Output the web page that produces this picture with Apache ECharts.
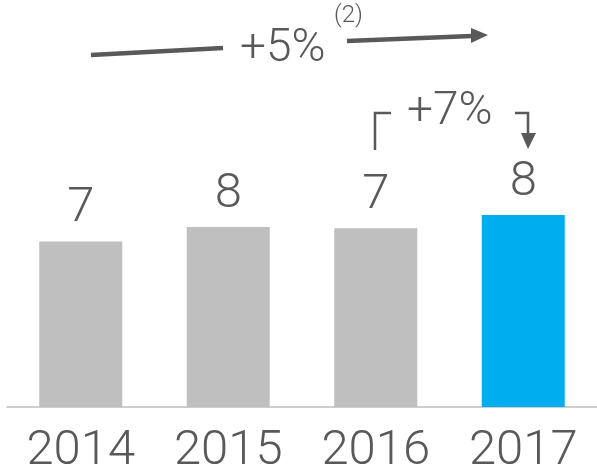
<!DOCTYPE html>
<html>
<head>
<meta charset="utf-8">
<script src="https://cdn.jsdelivr.net/npm/echarts@6/dist/echarts.min.js"></script>
<style>
  html, body { margin: 0; padding: 0; background: #fff; }
  #chart { width: 597px; height: 476px; }
</style>
</head>
<body>
<div id="chart"></div>
<script>
// data
const years = ['2014', '2015', '2016', '2017'];
const values = [6.9, 7.5, 7.45, 8.0];
const barColors = ['#BFBFBF', '#BFBFBF', '#BFBFBF', '#00AEEF'];
const textColor = '#595959';

const chart = echarts.init(document.getElementById('chart'));

const option = {
  animation: false,
  grid: { left: 7, right: -3, top: 167, bottom: 69 },
  xAxis: {
    type: 'category',
    data: years,
    axisTick: { show: false },
    axisLine: { lineStyle: { color: '#BFBFBF', width: 1.5 } },
    axisLabel: {
      color: textColor, fontSize: 49, fontFamily: 'Roboto', fontWeight: 300,
      lineHeight: 49, margin: 20
    }
  },
  yAxis: { type: 'value', min: 0, max: 10, show: false, splitLine: { show: false } },
  series: [{
    type: 'bar',
    barWidth: 83,
    data: values.map((v, i) => ({ value: v, itemStyle: { color: barColors[i] } })),
    label: {
      show: true,
      position: 'top',
      distance: 8,
      color: textColor, fontSize: 49, fontFamily: 'Roboto', fontWeight: 300, lineHeight: 49,
      formatter: p => Math.round(p.value)
    }
  }],
  graphic: [
    // long-term growth arrow
    { type: 'line', shape: { x1: 91, y1: 55, x2: 223, y2: 48 },
      style: { stroke: '#595959', lineWidth: 4.5 } },
    { type: 'text', left: 240, top: 26,
      style: { text: '+5%', fill: textColor, font: '300 46px Roboto' } },
    { type: 'text', left: 334, top: 4,
      style: { text: '(2)', fill: textColor, font: '300 24px Roboto' } },
    { type: 'line', shape: { x1: 347, y1: 41, x2: 472, y2: 36 },
      style: { stroke: '#595959', lineWidth: 4.5 } },
    { type: 'polygon', shape: { points: [[471, 28], [488, 35], [471, 43]] },
      style: { fill: '#595959' } },
    // year-on-year bracket
    { type: 'polyline', shape: { points: [[375, 150], [375, 113], [391, 113]] },
      style: { stroke: '#595959', lineWidth: 2.5, fill: null } },
    { type: 'text', left: 407, top: 89,
      style: { text: '+7%', fill: textColor, font: '300 46px Roboto' } },
    { type: 'polyline', shape: { points: [[515, 113], [528, 113], [528, 134]] },
      style: { stroke: '#595959', lineWidth: 2.5, fill: null } },
    { type: 'polygon', shape: { points: [[521, 133], [536, 133], [528, 149]] },
      style: { fill: '#595959' } }
  ]
};

chart.setOption(option);
</script>
</body>
</html>
